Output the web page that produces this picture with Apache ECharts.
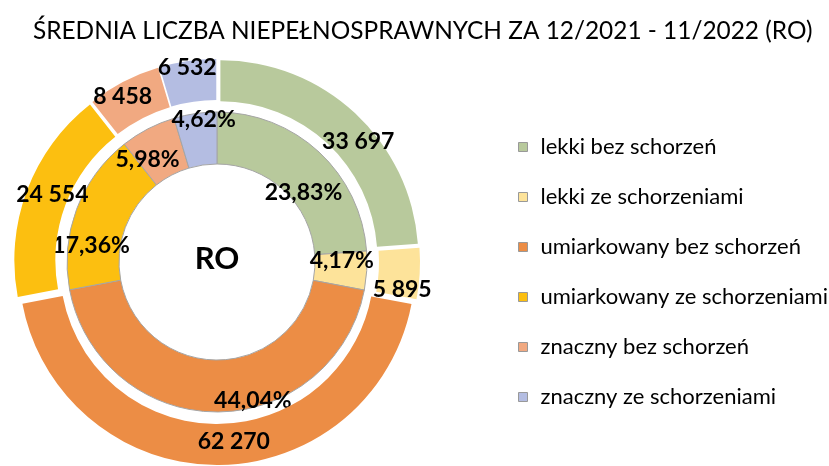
<!DOCTYPE html>
<html>
<head>
<meta charset="utf-8">
<script src="https://cdn.jsdelivr.net/npm/echarts@6/dist/echarts.min.js"></script>
<style>
  html, body { margin: 0; padding: 0; background: #fff; }
  #main { width: 829px; height: 466px; }
</style>
</head>
<body>
<div id="main"></div>
<script>
// dane
const categories = ['lekki bez schorzeń', 'lekki ze schorzeniami', 'umiarkowany bez schorzeń',
  'umiarkowany ze schorzeniami', 'znaczny bez schorzeń', 'znaczny ze schorzeniami'];
const values = [33697, 5895, 62270, 24554, 8458, 6532];
const colors = ['#b8c99c', '#fde39a', '#ec8d45', '#fcbf10', '#f1a981', '#b4bde2'];

// przesunięcia etykiet (jak w oryginale z Excela)
const outerLabelShift = [[15, 15], [0, 17], [17, -6], [9, -2], [-9, -1], [-3, -11]];
const innerLabelShift = [[0, 24], [-2, -9], [36, 12], [-7, 28], [-11, 10], [5, -17]];

const chart = echarts.init(document.getElementById('main'), null, { renderer: 'canvas' });

// 33697 -> "33 697"
function fmtNum(v) {
  return String(v).replace(/\B(?=(\d{3})+(?!\d))/g, ' ');
}

// zewnętrzny pierścień - wszystkie wycinki "wysunięte"
const outerData = categories.map((c, i) => ({
  name: c, value: values[i], selected: true,
  itemStyle: { color: colors[i] },
  label: { offset: outerLabelShift[i] },
  select: { label: { offset: outerLabelShift[i] } }
}));
const innerData = categories.map((c, i) => ({
  name: c, value: values[i],
  itemStyle: { color: colors[i] },
  label: { offset: innerLabelShift[i] }
}));

const labelStyle = {
  color: '#000', fontFamily: 'Lato', fontWeight: 'bold', fontSize: 23
};

chart.setOption({
  animation: false,
  title: [{
    text: 'ŚREDNIA LICZBA NIEPEŁNOSPRAWNYCH ZA 12/2021 - 11/2022 (RO)',
    left: 28, top: 14,
    textStyle: { fontFamily: 'Lato', fontWeight: 'normal', fontSize: 24.4, color: '#000' }
  }, {
    text: 'RO', left: 212, top: 254, textAlign: 'center', textVerticalAlign: 'middle',
    textStyle: { fontFamily: 'Lato', fontWeight: 'bold', fontSize: 31, color: '#000' }
  }],
  legend: {
    orient: 'vertical', left: 513, top: 131,
    itemWidth: 9, itemHeight: 9, itemGap: 28,
    icon: 'rect',
    itemStyle: { borderColor: '#999', borderWidth: 1 },
    textStyle: { fontFamily: 'Lato', fontSize: 22, color: '#000', padding: [0, 0, 0, 8] },
    selectedMode: false,
    data: categories
  },
  series: [{
    type: 'pie',
    center: [217, 262],
    radius: [157, 198],
    startAngle: 90,
    selectedMode: 'multiple',
    selectedOffset: 5,
    silent: true,
    avoidLabelOverlap: false,
    labelLayout: { hideOverlap: false },
    label: {
      position: 'inside', ...labelStyle,
      formatter: p => fmtNum(p.value)
    },
    labelLine: { show: false },
    data: outerData
  }, {
    type: 'pie',
    center: [217, 262],
    radius: [98, 150],
    startAngle: 90,
    silent: true,
    avoidLabelOverlap: false,
    labelLayout: { hideOverlap: false },
    itemStyle: { borderColor: '#a5a5a5', borderWidth: 1 },
    label: {
      position: 'inside', ...labelStyle,
      formatter: p => p.percent.toFixed(2).replace('.', ',') + '%'
    },
    labelLine: { show: false },
    data: innerData
  }]
});
</script>
</body>
</html>
